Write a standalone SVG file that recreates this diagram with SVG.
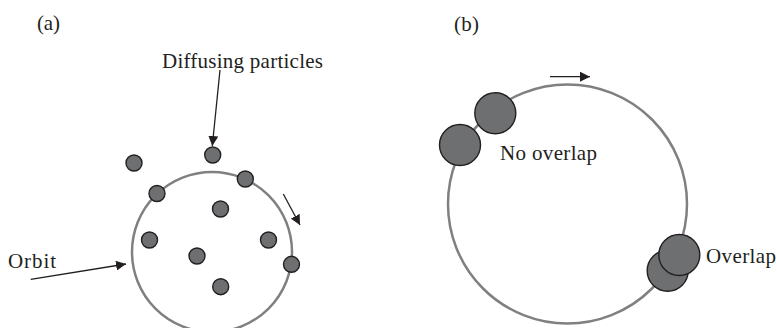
<svg xmlns="http://www.w3.org/2000/svg" width="777" height="328" viewBox="0 0 777 328">
<style>
.orbit{fill:none;stroke:#808080;stroke-width:2.5}
.p{fill:#6e6f71;stroke:#231f20;stroke-width:1.4}
.lbl{font-family:"Liberation Serif","Times New Roman",serif;font-size:21px;fill:#231f20}
.arr{stroke:#231f20;stroke-width:1.3;fill:none;marker-end:url(#ah)}
</style>
<defs>
<marker id="ah" viewBox="0 0 10 10" refX="10" refY="5" markerWidth="10" markerHeight="10" markerUnits="userSpaceOnUse" orient="auto">
<path d="M0,0 L10,5 L0,10 Z" fill="#231f20"/>
</marker>
</defs>
<g id="panel-a">
<text class="lbl" x="37" y="30" textLength="23">(a)</text>
<g id="orbit-a"><circle class="orbit" cx="212" cy="252" r="80"/></g>
<g id="particles-a">
<circle class="p" cx="134" cy="163" r="8"/>
<circle class="p" cx="212.7" cy="155" r="8"/>
<circle class="p" cx="245.3" cy="179" r="8"/>
<circle class="p" cx="157" cy="193.5" r="8"/>
<circle class="p" cx="220.5" cy="209" r="8"/>
<circle class="p" cx="149.5" cy="240" r="8"/>
<circle class="p" cx="268.5" cy="240" r="8"/>
<circle class="p" cx="197" cy="256" r="8"/>
<circle class="p" cx="291.5" cy="264.3" r="8"/>
<circle class="p" cx="220.7" cy="286.7" r="8"/>
</g>
<g id="label-diffusing"><text class="lbl" x="162" y="68" textLength="161">Diffusing particles</text></g>
<g id="label-orbit"><text class="lbl" x="8" y="268" textLength="48">Orbit</text></g>
</g>
<g id="panel-b">
<text class="lbl" x="454" y="31" textLength="25">(b)</text>
<g id="orbit-b"><circle class="orbit" cx="567.5" cy="204" r="119.5"/></g>
<g id="no-overlap">
<circle class="p" cx="495.3" cy="113.3" r="20.5"/>
<circle class="p" cx="460" cy="145" r="20.5"/>
<text class="lbl" x="500" y="160" textLength="97">No overlap</text>
</g>
<g id="overlap">
<circle class="p" cx="667.7" cy="270.7" r="20.5"/>
<circle class="p" cx="679.3" cy="255" r="20.5"/>
<text class="lbl" x="706" y="263" textLength="70">Overlap</text>
</g>
</g>
<g id="connectors">
<line class="arr" x1="220" y1="70" x2="212.3" y2="146"/>
<line class="arr" x1="30.7" y1="279.3" x2="126" y2="264"/>
<line class="arr" x1="283.3" y1="194" x2="300" y2="225"/>
<line class="arr" x1="550" y1="76.7" x2="590" y2="76.7"/>
</g>
</svg>
